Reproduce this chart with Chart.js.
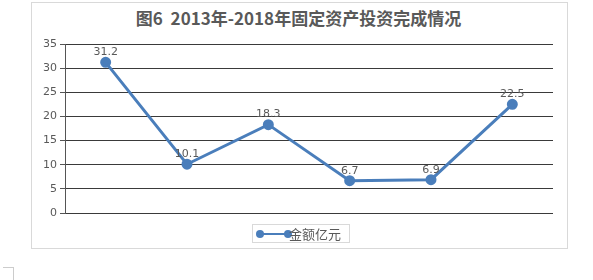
<!DOCTYPE html>
<html>
<head>
<meta charset="utf-8">
<script src="https://cdn.jsdelivr.net/npm/chart.js@4/dist/chart.umd.min.js"></script>
<style>
  body { margin: 0; background: #fff; }
  #wrap { position: relative; width: 593px; height: 280px; overflow: hidden; }
  #box { position: absolute; left: 31px; top: 2px; width: 537px; height: 247px; border: 1px solid #d9d9d9; box-sizing: border-box; }
  #title { position: absolute; left: 0; top: 5px; width: 597px; text-align: center; white-space: nowrap;
    font: bold 17px "Noto Sans CJK SC", sans-serif; color: #595959; }
  #legend { position: absolute; left: 252px; top: 224px; width: 98px; height: 19px; border: 1px solid #d9d9d9;
    box-sizing: border-box; font: 13px "Noto Sans CJK SC", sans-serif; color: #595959; }
  #legend .ln { position: absolute; left: 6px; top: 8px; width: 28px; height: 2px; background: #4a7ebb; }
  #legend .dot { position: absolute; top: 5px; width: 8px; height: 8px; border-radius: 50%; background: #4a7ebb; }
  #legend span { position: absolute; left: 36px; top: 0px; line-height: 17px; }
  #corner { position: absolute; left: 3px; top: 267px; width: 10px; height: 20px; border-right: 1px solid #ccc; border-top: 1px solid #ccc; }
  canvas { position: absolute; left: 0; top: 0; }
</style>
</head>
<body>
<div id="wrap">
  <div id="box"></div>
  <div id="title">图6&nbsp;&nbsp;2013年-2018年固定资产投资完成情况</div>
  <canvas id="chart" width="593" height="280"></canvas>
  <div id="legend"><div class="ln"></div><div class="dot" style="left:3px"></div><div class="dot" style="left:31px"></div><span>金额亿元</span></div>
  <div id="corner"></div>
</div>
<script>
var years = ["2013", "2014", "2015", "2016", "2017", "2018"];
var amounts = [31.2, 10.1, 18.3, 6.7, 6.9, 22.5];
var seriesName = "金额亿元";

// value labels above the points
var valueLabels = {
  id: "valueLabels",
  afterDatasetsDraw: function (chart) {
    var ctx = chart.ctx;
    var meta = chart.getDatasetMeta(0);
    ctx.save();
    ctx.font = "11px 'DejaVu Sans', sans-serif";
    ctx.fillStyle = "#595959";
    ctx.textAlign = "center";
    ctx.textBaseline = "middle";
    meta.data.forEach(function (pt, i) {
      ctx.fillText(String(amounts[i]), pt.x, pt.y - 10);
    });
    ctx.restore();
  }
};

new Chart(document.getElementById("chart"), {
  type: "line",
  data: {
    labels: years,
    datasets: [{
      label: seriesName,
      data: amounts,
      borderColor: "#4a7ebb",
      backgroundColor: "#4a7ebb",
      borderWidth: 3,
      pointRadius: 4,
      pointHoverRadius: 4,
      tension: 0
    }]
  },
  options: {
    responsive: false,
    animation: false,
    events: [],
    layout: { padding: { left: 0, right: 40, top: 44, bottom: 59 } },
    plugins: { legend: { display: false }, title: { display: false }, tooltip: { enabled: false } },
    scales: {
      x: {
        offset: true,
        ticks: { display: false },
        grid: { display: false },
        border: { display: false }
      },
      y: {
        min: 0,
        max: 35,
        ticks: { stepSize: 5, color: "#595959", font: { size: 11, family: "'DejaVu Sans', sans-serif" }, padding: 3 },
        grid: { color: "#3a3a3a", tickLength: 5, tickColor: "#555" },
        border: { color: "#555", width: 1 },
        afterFit: function (scale) { scale.width = 65; }
      }
    }
  },
  plugins: [valueLabels]
});
</script>
</body>
</html>
